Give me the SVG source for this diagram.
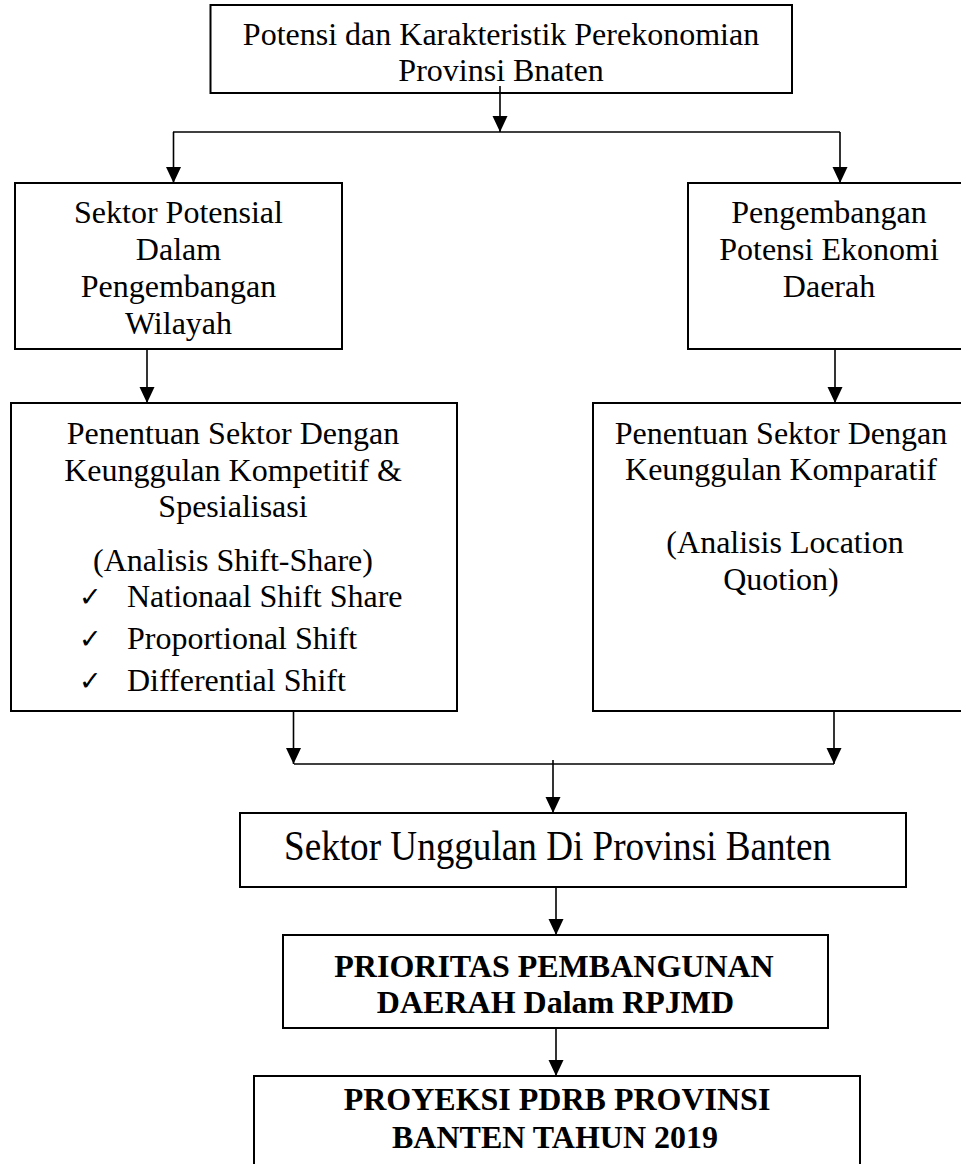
<svg xmlns="http://www.w3.org/2000/svg" width="961" height="1164" viewBox="0 0 961 1164">
<style>
.box{fill:#fff;stroke:#000;stroke-width:2}
.t{font-family:"Liberation Serif","Times New Roman",serif;font-size:32px;fill:#000;text-anchor:middle}
.b{font-weight:bold}
.l{text-anchor:start}
.ck{font-family:"DejaVu Sans",sans-serif;font-size:27px;fill:#000}
.c{fill:none;stroke:#000;stroke-width:1.6}
</style>
<defs>
<marker id="ah" viewBox="0 0 16 16" markerWidth="16" markerHeight="16" refX="16" refY="8" orient="auto" markerUnits="userSpaceOnUse">
<path d="M0,0.5 L16,8 L0,15.5 z" fill="#000"/>
</marker>
</defs>
<rect width="961" height="1164" fill="#fff"/>

<g id="n-top">
<rect class="box" x="210.5" y="5" width="581.5" height="88"/>
<text class="t" x="501" y="45">Potensi dan Karakteristik Perekonomian</text>
<text class="t" x="501" y="81">Provinsi Bnaten</text>
</g>

<g id="n-sektor-potensial">
<rect class="box" x="15" y="183" width="327" height="166"/>
<text class="t" x="178.5" y="223">Sektor Potensial</text>
<text class="t" x="178.5" y="260">Dalam</text>
<text class="t" x="178.5" y="297">Pengembangan</text>
<text class="t" x="178.5" y="334">Wilayah</text>
</g>

<g id="n-pengembangan">
<rect class="box" x="688" y="183" width="290" height="166"/>
<text class="t" x="829" y="223">Pengembangan</text>
<text class="t" x="829" y="260">Potensi Ekonomi</text>
<text class="t" x="829" y="297">Daerah</text>
</g>

<g id="n-kompetitif">
<rect class="box" x="11" y="403" width="446" height="308"/>
<text class="t" x="233" y="444">Penentuan Sektor Dengan</text>
<text class="t" x="233" y="481">Keunggulan Kompetitif &amp;</text>
<text class="t" x="233" y="517">Spesialisasi</text>
<text class="t" x="233" y="571">(Analisis Shift-Share)</text>
<text class="ck" x="79" y="606">✓</text>
<text class="t l" x="127" y="607">Nationaal Shift Share</text>
<text class="ck" x="79" y="648">✓</text>
<text class="t l" x="127" y="649">Proportional Shift</text>
<text class="ck" x="79" y="690">✓</text>
<text class="t l" x="127" y="691">Differential Shift</text>
</g>

<g id="n-komparatif">
<rect class="box" x="593" y="403" width="385" height="308"/>
<text class="t" x="781" y="444">Penentuan Sektor Dengan</text>
<text class="t" x="781" y="480">Keunggulan Komparatif</text>
<text class="t" x="785" y="553">(Analisis Location</text>
<text class="t" x="781" y="590">Quotion)</text>
</g>

<g id="n-unggulan">
<rect class="box" x="240" y="813" width="666" height="74"/>
<text class="t l" x="284" y="860" style="font-size:42px" textLength="547" lengthAdjust="spacingAndGlyphs">Sektor Unggulan Di Provinsi Banten</text>
</g>

<g id="n-prioritas">
<rect class="box" x="283" y="935" width="545" height="93"/>
<text class="t b" x="554" y="977">PRIORITAS PEMBANGUNAN</text>
<text class="t b" x="555.5" y="1013">DAERAH Dalam RPJMD</text>
</g>

<g id="n-proyeksi">
<rect class="box" x="254" y="1076" width="606" height="110"/>
<text class="t b" x="557" y="1110">PROYEKSI PDRB PROVINSI</text>
<text class="t b" x="555" y="1148">BANTEN TAHUN 2019</text>
</g>

<g id="connectors">
<line class="c" x1="500" y1="86" x2="500" y2="132" marker-end="url(#ah)"/>
<line class="c" x1="173" y1="132" x2="840" y2="132"/>
<line class="c" x1="173.5" y1="132" x2="173.5" y2="183" marker-end="url(#ah)"/>
<line class="c" x1="840" y1="132" x2="840" y2="183" marker-end="url(#ah)"/>
<line class="c" x1="147" y1="349" x2="147" y2="403" marker-end="url(#ah)"/>
<line class="c" x1="835" y1="349" x2="835" y2="403" marker-end="url(#ah)"/>
<line class="c" x1="293.5" y1="711" x2="293.5" y2="764" marker-end="url(#ah)"/>
<line class="c" x1="834" y1="711" x2="834" y2="764" marker-end="url(#ah)"/>
<line class="c" x1="294" y1="764" x2="834" y2="764"/>
<line class="c" x1="553" y1="760" x2="553" y2="813" marker-end="url(#ah)"/>
<line class="c" x1="556" y1="887" x2="556" y2="935" marker-end="url(#ah)"/>
<line class="c" x1="556" y1="1028" x2="556" y2="1076" marker-end="url(#ah)"/>
</g>
</svg>
